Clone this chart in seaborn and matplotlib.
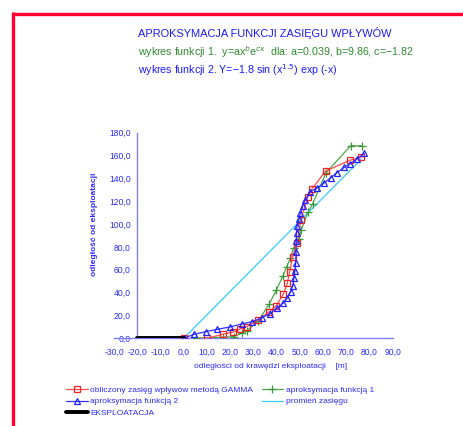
import numpy as np
import pandas as pd
import matplotlib
matplotlib.use("Agg")
import matplotlib.pyplot as plt
import seaborn as sns
from matplotlib.lines import Line2D

# ---- data ----
gamma_x = [0.0, 10.0, 16.8, 21.3, 24.4, 27.3, 32.0, 36.7, 39.9, 42.9, 44.6, 45.6, 46.9, 49.0, 50.4, 53.4, 55.2, 61.1, 71.7, 76.4]
gamma_y = [0.0, 0.0, 3.5, 5.5, 8.2, 10.2, 16.0, 23.0, 28.6, 38.5, 48.0, 58.0, 71.5, 83.7, 103.6, 123.4, 130.7, 146.4, 156.0, 158.4]

f1_x = [5.1, 17.0, 21.6, 25.0, 27.3, 32.0, 36.8, 39.9, 42.8, 44.3, 45.9, 47.3, 49.6, 50.6, 53.5, 55.5, 61.3, 71.9, 76.7]
f1_y = [0.0, 1.0, 1.5, 4.4, 6.7, 15.0, 29.8, 42.3, 54.8, 62.4, 70.0, 78.8, 87.0, 94.8, 110.3, 117.6, 145.0, 168.6, 168.6]

f2_x = [0.0, 4.4, 9.5, 14.5, 19.9, 24.9, 29.6, 33.7, 37.1, 40.2, 42.7, 44.7, 46.0, 47.0, 47.5, 47.9, 48.2, 48.4, 48.4, 48.5,
        48.6, 48.8, 49.6, 50.3, 51.3, 52.2, 54.2, 57.6, 60.6, 63.3, 65.9, 69.2, 71.7, 74.7, 77.7]
f2_y = [0.0, 3.5, 5.8, 7.9, 9.9, 12.5, 14.6, 18.1, 21.6, 26.3, 30.6, 35.6, 40.8, 46.1, 52.8, 59.2, 65.6, 72.3, 79.3, 85.2,
        91.9, 98.6, 104.4, 110.0, 115.8, 121.0, 127.8, 131.9, 136.2, 140.6, 145.0, 149.7, 152.9, 157.0, 162.0]

radius_x = [0.0, 76.4]
radius_y = [0.0, 156.7]

expl_x = [-20.0, 0.0]
expl_y = [0.0, 0.0]

x_ticks = [-30, -20, -10, 0, 10, 20, 30, 40, 50, 60, 70, 80, 90]
y_ticks = [0, 20, 40, 60, 80, 100, 120, 140, 160, 180]

sns.set_style("white")
plt.rcParams['font.family'] = ['Liberation Sans', 'DejaVu Sans']

W, H = 464, 426
fig = plt.figure(figsize=(W / 100, H / 100), dpi=100)
fig.patch.set_facecolor('white')

ax = fig.add_axes([114 / W, 1 - 338.3 / H, (392.7 - 114) / W, (338.3 - 132.7) / H])
ax.set_facecolor('none')

blue_txt = '#2b2bff'
axis_col = '#8080ff'

lw = 0.9
sns.lineplot(x=radius_x, y=radius_y, ax=ax, color='#33ccff', lw=0.9, sort=False,
             label='promień zasięgu', zorder=2)
sns.lineplot(x=f1_x, y=f1_y, ax=ax, color='#4ca64c', lw=lw, sort=False, marker='+',
             markersize=6, markeredgewidth=0.9, markeredgecolor='#3a9a3a',
             label='aproksymacja funkcją 1', zorder=3)
sns.lineplot(x=gamma_x, y=gamma_y, ax=ax, color='#ff4d4d', lw=lw, sort=False, marker='s',
             markersize=3.8, markerfacecolor='none', markeredgecolor='#ee2222', markeredgewidth=0.9,
             label='obliczony zasięg wpływów metodą GAMMA', zorder=4)
sns.lineplot(x=f2_x, y=f2_y, ax=ax, color='#3333ff', lw=lw, sort=False, marker='^',
             markersize=3.8, markerfacecolor='none', markeredgecolor='#2222ff', markeredgewidth=0.9,
             label='aproksymacja funkcją 2', zorder=5)
sns.lineplot(x=expl_x, y=expl_y, ax=ax, color='black', lw=2.8, sort=False,
             label='EKSPLOATACJA', zorder=6)

ax.set_xlim(-30, 90)
ax.set_ylim(0, 180)
ax.set_xticks(x_ticks)
ax.set_yticks(y_ticks)
ax.set_xticklabels([f"{v:.1f}".replace('.', ',') for v in x_ticks])
ax.set_yticklabels([f"{v:.1f}".replace('.', ',') for v in y_ticks])

for s in ['top', 'right']:
    ax.spines[s].set_visible(False)
ax.spines['left'].set_position(('data', -20))
ax.spines['bottom'].set_position(('data', 0))
for s in ['left', 'bottom']:
    ax.spines[s].set_color(axis_col)
    ax.spines[s].set_linewidth(1.0)
ax.tick_params(axis='both', direction='inout', length=5, width=1.0, color=axis_col,
               labelcolor=blue_txt, labelsize=6.2, pad=2)
ax.tick_params(axis='x', pad=4)

fig.text(271 / W, 1 - 367 / H, 'odległości od krawędzi eksploatacji    [m]', color=blue_txt,
         fontsize=6, ha='center', va='center')
fig.text(95 / W, 1 - 224 / H, 'odległość od eksploatacji', color=blue_txt,
         fontsize=6, fontweight='bold', ha='center', va='center', rotation=90)

# titles
fig.text(138 / W, 1 - 33 / H, 'APROKSYMACJA FUNKCJI ZASIĘGU WPŁYWÓW', color='#1a1aff',
         fontsize=7.9, ha='left', va='center')
fig.text(138 / W, 1 - 52 / H, 'wykres funkcji 1.  y=ax$^{b}$e$^{cx}$  dla: a=0.039, b=9.86, c=−1.82',
         color='#2e8b2e', fontsize=7.7, ha='left', va='center')
fig.text(138 / W, 1 - 70 / H, 'wykres funkcji 2. Y=−1.8 sin (x$^{1.5}$) exp (-x)', color='#1a1aff',
         fontsize=7.7, ha='left', va='center')

# legend
handles, labels = ax.get_legend_handles_labels()
order = ['obliczony zasięg wpływów metodą GAMMA', 'aproksymacja funkcją 2', 'EKSPLOATACJA',
         'aproksymacja funkcją 1', 'promień zasięgu']
hmap = dict(zip(labels, handles))
leg = ax.legend([hmap[k] for k in order], order, ncol=2, frameon=False, fontsize=6,
                loc='upper left', bbox_to_anchor=(66 / W, 1 - 386 / H), bbox_transform=fig.transFigure,
                handlelength=2.6, handletextpad=0.3, columnspacing=1.0, labelspacing=0.45,
                borderpad=0, borderaxespad=0)
for t in leg.get_texts():
    t.set_color(blue_txt)

# red frame
fig.add_artist(Line2D([12 / W, 1.0], [1 - 13.5 / H, 1 - 13.5 / H], transform=fig.transFigure,
                      color='#ff0030', lw=2.4, solid_capstyle='butt'))
fig.add_artist(Line2D([13 / W, 13 / W], [0, 1 - 12.3 / H], transform=fig.transFigure,
                      color='#ff0030', lw=2.4, solid_capstyle='butt'))

fig.savefig('out.png', dpi=100, facecolor='white')
